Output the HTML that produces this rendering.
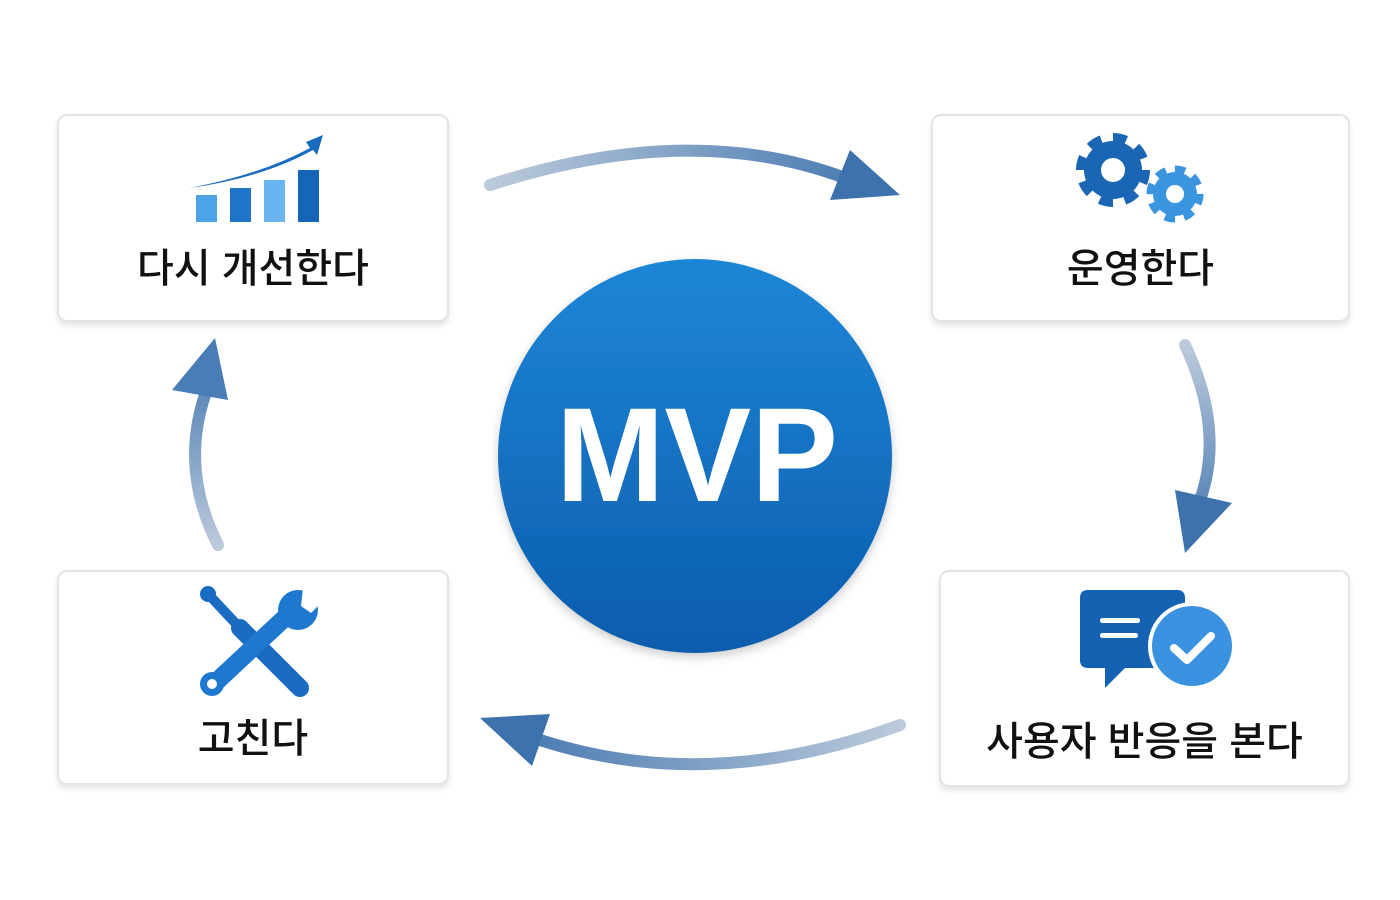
<!DOCTYPE html>
<html><head><meta charset="utf-8"><style>
html,body{margin:0;padding:0;background:#fff;width:1400px;height:900px;overflow:hidden}
.box{position:absolute;background:#fff;border:2px solid #e2e4ea;border-radius:10px;box-shadow:0 4px 6px rgba(0,0,0,0.1)}
.lbl{position:absolute;left:0;right:0;text-align:center;font-family:"Liberation Sans","Noto Sans CJK KR",sans-serif;font-size:40px;color:#111;font-weight:500}
</style></head><body>
<div class="box" style="left:57px;top:114px;width:388px;height:204px"><div class="lbl" style="top:120px">다시 개선한다</div></div>
<div class="box" style="left:931px;top:114px;width:415px;height:204px"><div class="lbl" style="top:120px">운영한다</div></div>
<div class="box" style="left:57px;top:570px;width:388px;height:211px"><div class="lbl" style="top:134px">고친다</div></div>
<div class="box" style="left:939px;top:570px;width:407px;height:213px"><div class="lbl" style="top:137px">사용자 반응을 본다</div></div>
<svg width="1400" height="900" style="position:absolute;left:0;top:0" xmlns="http://www.w3.org/2000/svg">
<defs>
<linearGradient id="c" x1="0" y1="0" x2="0" y2="1"><stop offset="0" stop-color="#1f86d6"/><stop offset="1" stop-color="#0b5cad"/></linearGradient>
<linearGradient id="g1" gradientUnits="userSpaceOnUse" x1="490" y1="0" x2="900" y2="0"><stop offset="0" stop-color="#bccadb"/><stop offset="1" stop-color="#3d72ad"/></linearGradient>
<linearGradient id="g2" gradientUnits="userSpaceOnUse" x1="0" y1="345" x2="0" y2="555"><stop offset="0" stop-color="#bccadb"/><stop offset="1" stop-color="#3d72ad"/></linearGradient>
<linearGradient id="g3" gradientUnits="userSpaceOnUse" x1="902" y1="0" x2="480" y2="0"><stop offset="0" stop-color="#bccadb"/><stop offset="1" stop-color="#3d72ad"/></linearGradient>
<linearGradient id="g4" gradientUnits="userSpaceOnUse" x1="0" y1="547" x2="0" y2="338"><stop offset="0" stop-color="#bccadb"/><stop offset="1" stop-color="#3d72ad"/></linearGradient>
<filter id="sh"><feDropShadow dx="0" dy="4" stdDeviation="5" flood-opacity="0.2"/></filter>
</defs>
<path d="M490 185 Q690 120 845 178" fill="none" stroke="url(#g1)" stroke-width="12" stroke-linecap="round"/>
<polygon points="900,195 830,200 850,150" fill="#3d72ad"/>
<path d="M1185 345 Q1225 430 1200 500" fill="none" stroke="url(#g2)" stroke-width="12" stroke-linecap="round"/>
<polygon points="1185,553 1175,490 1232,503" fill="#3d72ad"/>
<path d="M900 725 Q710 795 540 740" fill="none" stroke="url(#g3)" stroke-width="12" stroke-linecap="round"/>
<polygon points="480,718 550,714 532,766" fill="#3d72ad"/>
<path d="M218 545 Q180 470 205 395" fill="none" stroke="url(#g4)" stroke-width="12" stroke-linecap="round"/>
<polygon points="215,338 172,390 228,400" fill="#4a7db5"/>
<circle cx="695" cy="456" r="197" fill="url(#c)" filter="url(#sh)"/>
<text x="697" y="501" text-anchor="middle" font-family="Liberation Sans,sans-serif" font-weight="bold" font-size="134" fill="#fff" textLength="282" lengthAdjust="spacingAndGlyphs">MVP</text>
<rect x="196" y="195" width="21" height="27" fill="#4ca3e8"/>
<rect x="230" y="188" width="21" height="34" fill="#1e74c7"/>
<rect x="264" y="180" width="21" height="42" fill="#6ab4ef"/>
<rect x="298" y="170" width="21" height="52" fill="#1565b8"/>
<path d="M189 188 Q260 175 310 148 L306 142 L323 135 L317 155 L313 150 Q262 178 189 188Z" fill="#1a6cc0"/>
<g fill="#1a66b5"><circle cx="1113" cy="170" r="29"/><circle cx="1113" cy="170" r="31" fill="none" stroke="#1a66b5" stroke-width="12" stroke-dasharray="13 11.3"/></g>
<circle cx="1113" cy="170" r="12" fill="#fff"/>
<g fill="#3b94e0"><circle cx="1175" cy="194" r="22"/><circle cx="1175" cy="194" r="24" fill="none" stroke="#3b94e0" stroke-width="9" stroke-dasharray="10 8.8"/></g>
<circle cx="1175" cy="194" r="9" fill="#fff"/>
<path d="M1088 590 H1177 Q1185 590 1185 598 V660 Q1185 668 1177 668 H1125 L1105 688 V668 H1088 Q1080 668 1080 660 V598 Q1080 590 1088 590Z" fill="#1463b3"/>
<rect x="1100" y="618" width="40" height="5" rx="2.5" fill="#fff"/>
<rect x="1100" y="633" width="38" height="5" rx="2.5" fill="#fff"/>
<circle cx="1192" cy="646" r="44" fill="#fff"/>
<circle cx="1192" cy="646" r="40" fill="#3a92e0"/>
<path d="M1174 648 L1187 660 L1211 636" fill="none" stroke="#fff" stroke-width="8" stroke-linecap="round" stroke-linejoin="round"/>
<g stroke-linecap="round">
<line x1="210" y1="596" x2="240" y2="628" stroke="#1a6cc0" stroke-width="10"/>
<line x1="240" y1="628" x2="300" y2="688" stroke="#1a6cc0" stroke-width="18"/>
<line x1="215" y1="683" x2="290" y2="613" stroke="#1e78cf" stroke-width="18"/>
</g>
<circle cx="208" cy="594" r="8" fill="#1a6cc0"/>
<circle cx="212" cy="684" r="12" fill="#1e78cf"/>
<circle cx="212" cy="684" r="5" fill="#fff"/>
<circle cx="298" cy="610" r="20" fill="#1e78cf"/>
<path d="M303 588 L324 600 L311 613 L301 606Z" fill="#fff"/>
</svg>
</body></html>
